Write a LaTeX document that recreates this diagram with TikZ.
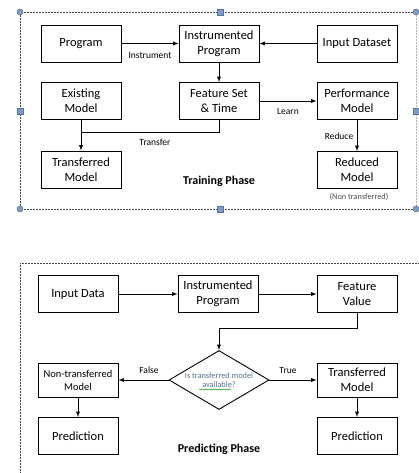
\documentclass[tikz,border=0pt]{standalone}
\usepackage{fontspec}
\setmainfont{Carlito}
\usepackage{tikz}
\usepackage{xcolor}
\usetikzlibrary{shapes.geometric, arrows, positioning, calc, decorations.pathmorphing}

\definecolor{handlefill}{RGB}{128,156,196}
\definecolor{handledraw}{RGB}{84,116,160}
\definecolor{framegray}{RGB}{70,70,70}
\definecolor{qtextcol}{RGB}{88,112,146}

\begin{document}
\begin{tikzpicture}[x=1pt, y=-1pt,
    box/.style={draw, line width=0.9pt, minimum width=80pt, minimum height=37pt, align=center, inner sep=1pt, font=\fontsize{12.5}{15}\selectfont},
    arr/.style={-latex, line width=0.9pt},
    lbl/.style={font=\fontsize{9.5}{11}\selectfont},
    phase/.style={font=\fontsize{12}{14}\selectfont\bfseries},
    frame/.style={line width=0.8pt, draw=framegray, dash pattern=on 2pt off 1pt},
    handle/.style={circle, fill=handlefill, draw=handledraw, line width=0.5pt, inner sep=0pt, minimum size=6pt},
    hsquare/.style={rectangle, fill=handlefill, draw=handledraw, line width=0.5pt, inner sep=0pt, minimum size=6pt},
    decision/.style={diamond, draw, line width=0.9pt, minimum width=100pt, minimum height=59pt, inner sep=0pt}]
    \useasboundingbox (0,0) rectangle (418,473);

    % Training phase frame
    \draw[frame] (416,12) -- (20,12) -- (20,209) -- (416,209);
    \draw[frame, draw=gray!60] (416,12) -- (416,209);
    \foreach \x/\y [count=\i] in {20/12, 416/12, 20/209, 416/209}
        \node[handle] (hc\i) at (\x,\y) {};
    \foreach \x/\y [count=\i] in {220/12, 20/111, 416/111, 220/209}
        \node[hsquare] (hs\i) at (\x,\y) {};

    % Training phase boxes
    \node[box] (prog) at (81,43.5) {Program};
    \node[box] (instr) at (219,43.5) {Instrumented\\Program};
    \node[box] (inds) at (357,43.5) {Input Dataset};
    \node[box] (exist) at (81,101) {Existing\\Model};
    \node[box] (feat) at (219,101) {Feature Set\\\& Time};
    \node[box] (perf) at (357,101) {Performance\\Model};
    \node[box] (trans) at (81,169.5) {Transferred\\Model};
    \node[box] (reduced) at (357,170) {Reduced\\Model};

    \draw[arr] (prog) -- (instr);
    \draw[arr] (inds) -- (instr);
    \draw[arr] (instr) -- (feat);
    \draw[arr] (feat) -- (perf);
    \draw[arr] (exist) -- (trans);
    \coordinate (tjoin) at (81,132);
    \draw[line width=0.9pt] (feat.south) |- (tjoin);
    \draw[arr] (perf) -- (reduced);

    \node[lbl] (linstr) at (150,55) {Instrument};
    \node[lbl] (llearn) at (288,111) {Learn};
    \node[lbl] (ltransfer) at (155,142) {Transfer};
    \node[lbl] (lreduce) at (339,136) {Reduce};
    \node[phase] (ptrain) at (219,181) {Training Phase};
    \node[font=\fontsize{8.3}{9}\selectfont, text=black!70] (lnon) at (359,197) {(Non transferred)};

    % Predicting phase frame
    \draw[frame] (20,480) -- (20,263) -- (420,263);

    % Predicting phase boxes
    \node[box] (indata) at (78,294) {Input Data};
    \node[box] (instr2) at (218,294) {Instrumented\\Program};
    \node[box] (fval) at (357,294) {Feature\\Value};
    \node[decision] (dec) at (219,380) {};
    \node[font=\fontsize{8.3}{9.5}\selectfont, text=qtextcol, align=center] (qtext) at (dec) {Is transferred model\\available?};
    \draw[green!60!black, line width=0.4pt, decorate, decoration={snake, amplitude=0.5pt, segment length=2pt}]
        ($(qtext.center)+(-20,9.5)$) -- ++(32,0);
    \node[box, minimum height=34pt, font=\fontsize{10.5}{13}\selectfont] (nontr) at (78,380) {Non-transferred\\Model};
    \node[box, minimum height=34pt] (trans2) at (357,380) {Transferred\\Model};
    \node[box] (pred1) at (78,436) {Prediction};
    \node[box] (pred2) at (357,436) {Prediction};

    \draw[arr] (indata) -- (instr2);
    \draw[arr] (instr2) -- (fval);
    \coordinate (fbend) at (357,328);
    \draw[arr] (fval.south) -- (fbend) -| (dec.north);
    \draw[arr] (dec.west) -- (nontr);
    \draw[arr] (dec.east) -- (trans2);
    \draw[arr] (nontr) -- (pred1);
    \draw[arr] (trans2) -- (pred2);

    \node[lbl] (lfalse) at (149,370) {False};
    \node[lbl] (ltrue) at (288,370) {True};
    \node[phase] (ppredict) at (219,449) {Predicting Phase};
\end{tikzpicture}
\end{document}
